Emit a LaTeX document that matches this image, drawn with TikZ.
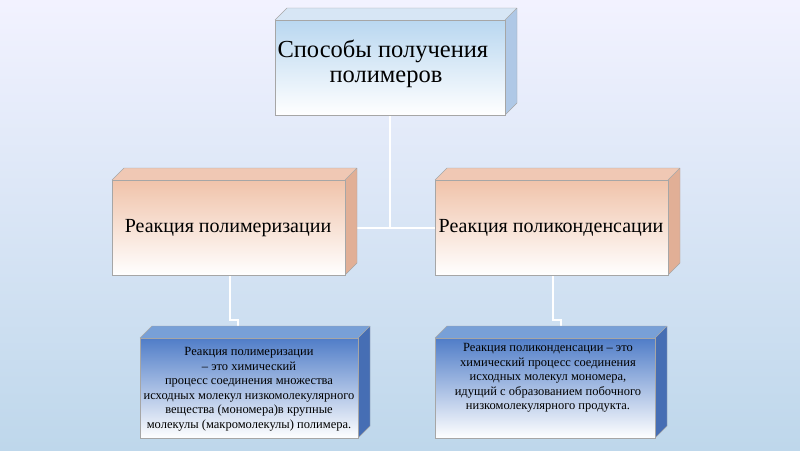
\documentclass[tikz,border=0pt]{standalone}
\usepackage{fontspec}
\setmainfont{LiberationSerif}[Extension=.ttf,UprightFont=*-Regular,BoldFont=*-Bold]
\definecolor{bgb}{RGB}{190,215,235}
\definecolor{tA}{RGB}{215,230,245}\definecolor{tS}{RGB}{175,200,230}\definecolor{tG}{RGB}{185,215,240}
\definecolor{oA}{RGB}{240,200,180}\definecolor{oS}{RGB}{225,175,150}\definecolor{oG}{RGB}{240,195,170}
\definecolor{bA}{RGB}{120,160,215}\definecolor{bS}{RGB}{70,110,180}\definecolor{bG}{RGB}{80,125,200}
\begin{document}
\begin{tikzpicture}[x=1pt,y=-1pt,
  conn/.style={draw=gray!45,line width=2.6pt},
  connin/.style={draw=white,line width=1.4pt},
  lbl/.style={align=center,text=black}]
\useasboundingbox (0,0) rectangle (800,450);
\shade[top color=blue!5!white,bottom color=bgb] (0,0) rectangle (800,450);
\newcommand{\boxthree}[8]{%
  \fill[#7] (#3,#2) -- ++(#5,-#5) -- (#3+#5,#4-#5) -- (#3,#4) -- cycle;
  \fill[#6] (#1,#2) -- ++(#5,-#5) -- (#3+#5,#2-#5) -- (#3,#2) -- cycle;
  \draw[gray!70,line width=0.4pt] (#1,#2) -- ++(#5,-#5) -- (#3+#5,#2-#5) -- (#3+#5,#4-#5) -- (#3,#4) (#3,#2) -- ++(#5,-#5);
  \node[draw=gray!70,line width=0.4pt,minimum width=#3-#1,minimum height=#4-#2,anchor=north west,inner sep=0pt,
   top color=#8,bottom color=white] at (#1,#2) {};}
\coordinate (j1) at (390,228);
\coordinate (b1) at (230,320); \coordinate (b2) at (238,320);
\coordinate (c1) at (553,320); \coordinate (c2) at (561,320);
\foreach \s in {conn,connin}{
 \draw[\s] (390,112) -- (j1);
 \draw[\s] (345,228) -- (435,228);
 \draw[\s] (230,272) -- (b1) -- (b2) -- (238,338);
 \draw[\s] (553,272) -- (c1) -- (c2) -- (561,338);
}
\boxthree{275}{20}{505}{115}{12}{tA}{tS}{tG}
\node[lbl,font=\fontsize{24.5}{29}\selectfont,anchor=north west,align=left] (top) at (274,36) {Способы получения\\[-4pt]\hspace*{52pt}полимеров};
\boxthree{112}{180}{345}{275}{12}{oA}{oS}{oG}
\node[lbl,font=\fontsize{20}{24}\selectfont] (ml) at (228,228) {Реакция полимеризации};
\boxthree{435}{180}{668}{275}{12}{oA}{oS}{oG}
\node[lbl,font=\fontsize{20}{24}\selectfont] (mr) at (551,228) {Реакция поликонденсации};
\boxthree{140}{338}{358}{438}{12}{bA}{bS}{bG}
\node[lbl,font=\fontsize{12.5}{14.5}\selectfont] (bl) at (249,389) {Реакция полимеризации\\– это химический\\процесс соединения множества\\исходных молекул низкомолекулярного\\вещества (мономера)в крупные\\молекулы (макромолекулы) полимера.};
\boxthree{435}{338}{655}{438}{12}{bA}{bS}{bG}
\node[lbl,font=\fontsize{12.5}{14.5}\selectfont] (br) at (548,378) {Реакция поликонденсации – это\\химический процесс соединения\\исходных молекул мономера,\\идущий с образованием побочного\\низкомолекулярного продукта.};
\end{tikzpicture}
\end{document}
